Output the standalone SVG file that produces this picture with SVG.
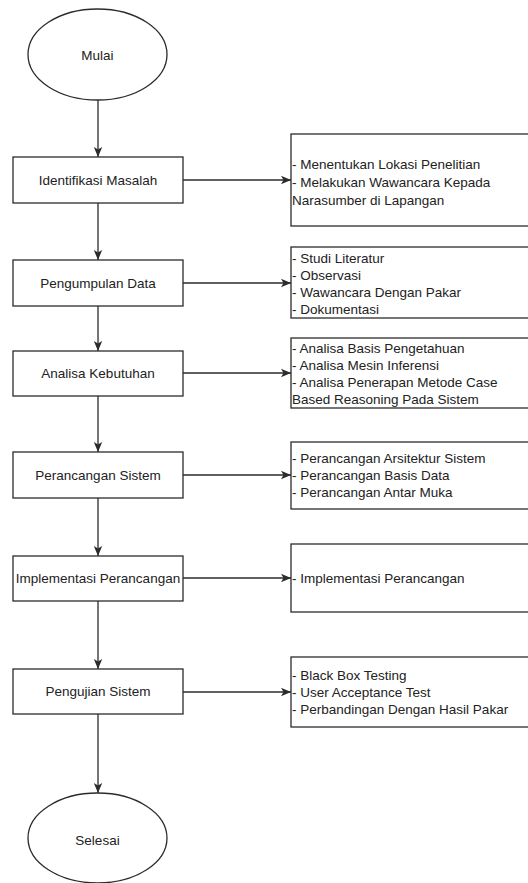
<svg xmlns="http://www.w3.org/2000/svg" width="528" height="883" viewBox="0 0 528 883">
<style>
.shape{fill:#ffffff;stroke:#2b2b2b;stroke-width:1.3}
.t{font-family:"Liberation Sans",Arial,sans-serif;font-size:13.5px;fill:#222222}
.c{text-anchor:middle;dominant-baseline:central}
.l{text-anchor:start;dominant-baseline:central}
.edge{fill:none;stroke:#2b2b2b;stroke-width:1.3;marker-end:url(#arr)}
</style>
<defs>
<marker id="arr" markerUnits="userSpaceOnUse" markerWidth="10" markerHeight="10" viewBox="0 0 10 10" refX="10" refY="5" orient="auto">
<path d="M0,0.8 L10,5 L0,9.2 L2.5,5 Z" fill="#2b2b2b"/>
</marker>
</defs>
<rect width="528" height="883" fill="#ffffff"/>
<g id="connectors">
<path class="edge" d="M98,100 V157"/>
<path class="edge" d="M98,203 V260"/>
<path class="edge" d="M98,306 V351"/>
<path class="edge" d="M98,396 V452"/>
<path class="edge" d="M98,498 V556"/>
<path class="edge" d="M98,601 V669"/>
<path class="edge" d="M98,714 V793"/>
<path class="edge" d="M183,180 H291"/>
<path class="edge" d="M183,283 H291"/>
<path class="edge" d="M183,373 H291"/>
<path class="edge" d="M183,475 H291"/>
<path class="edge" d="M183,578 H291"/>
<path class="edge" d="M183,692 H291"/>
</g>
<g id="mulai">
<ellipse class="shape" cx="97.5" cy="54.5" rx="69.5" ry="45.5"/>
<text class="t c" x="97.5" y="55">Mulai</text>
</g>
<g id="identifikasi">
<rect class="shape" x="13" y="157" width="170" height="46"/>
<text class="t c" x="98" y="180">Identifikasi Masalah</text>
</g>
<g id="pengumpulan">
<rect class="shape" x="13" y="260" width="170" height="46"/>
<text class="t c" x="98" y="283">Pengumpulan Data</text>
</g>
<g id="analisa">
<rect class="shape" x="13" y="351" width="170" height="45"/>
<text class="t c" x="98" y="373.5">Analisa Kebutuhan</text>
</g>
<g id="perancangan">
<rect class="shape" x="13" y="452" width="170" height="46"/>
<text class="t c" x="98" y="475">Perancangan Sistem</text>
</g>
<g id="implementasi">
<rect class="shape" x="13" y="556" width="170" height="45"/>
<text class="t c" x="98" y="578.5">Implementasi Perancangan</text>
</g>
<g id="pengujian">
<rect class="shape" x="13" y="669" width="170" height="45"/>
<text class="t c" x="98" y="691.5">Pengujian Sistem</text>
</g>
<g id="selesai">
<ellipse class="shape" cx="97.5" cy="838" rx="69.5" ry="45"/>
<text class="t c" x="97.5" y="840">Selesai</text>
</g>
<g id="note-identifikasi">
<rect class="shape" x="291" y="134" width="240" height="92"/>
<text class="t l" x="292" y="164">- Menentukan Lokasi Penelitian</text>
<text class="t l" x="292" y="182">- Melakukan Wawancara Kepada</text>
<text class="t l" x="292" y="200">Narasumber di Lapangan</text>
</g>
<g id="note-pengumpulan">
<rect class="shape" x="291" y="247" width="240" height="71"/>
<text class="t l" x="292" y="258">- Studi Literatur</text>
<text class="t l" x="292" y="275">- Observasi</text>
<text class="t l" x="292" y="292">- Wawancara Dengan Pakar</text>
<text class="t l" x="292" y="309">- Dokumentasi</text>
</g>
<g id="note-analisa">
<rect class="shape" x="291" y="338" width="240" height="70"/>
<text class="t l" x="292" y="348.5">- Analisa Basis Pengetahuan</text>
<text class="t l" x="292" y="365.5">- Analisa Mesin Inferensi</text>
<text class="t l" x="292" y="382.5">- Analisa Penerapan Metode Case</text>
<text class="t l" x="292" y="399.5">Based Reasoning Pada Sistem</text>
</g>
<g id="note-perancangan">
<rect class="shape" x="291" y="442" width="240" height="67"/>
<text class="t l" x="292" y="458.5">- Perancangan Arsitektur Sistem</text>
<text class="t l" x="292" y="475.5">- Perancangan Basis Data</text>
<text class="t l" x="292" y="492.5">- Perancangan Antar Muka</text>
</g>
<g id="note-implementasi">
<rect class="shape" x="291" y="544" width="240" height="68"/>
<text class="t l" x="292" y="578">- Implementasi Perancangan</text>
</g>
<g id="note-pengujian">
<rect class="shape" x="291" y="657" width="240" height="70"/>
<text class="t l" x="292" y="675">- Black Box Testing</text>
<text class="t l" x="292" y="692">- User Acceptance Test</text>
<text class="t l" x="292" y="709">- Perbandingan Dengan Hasil Pakar</text>
</g>
</svg>
